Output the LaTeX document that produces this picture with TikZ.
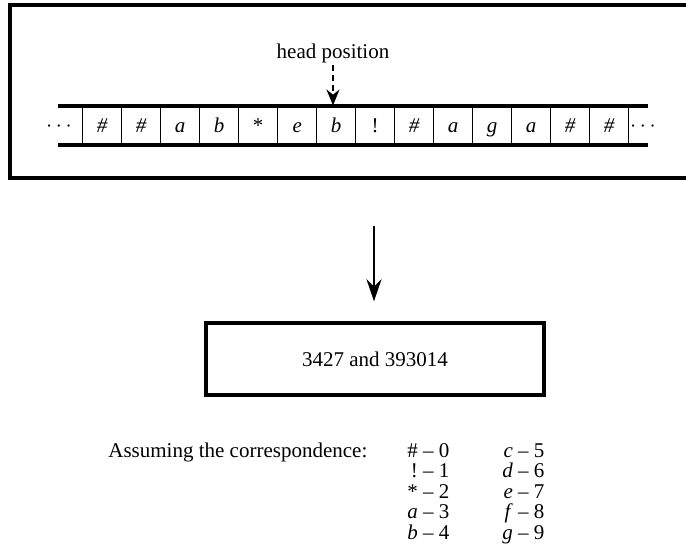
\documentclass[tikz,border=0pt]{standalone}
\usepackage{fontspec}
\setmainfont{Liberation Serif}
\usetikzlibrary{arrows.meta,positioning}

\tikzset{
  thickrule/.style={line width=1.7pt},
  tapecell/.style={draw,line width=0.5pt,minimum width=19.5pt,minimum height=19.5pt,
                   inner sep=0pt,text height=7pt,text depth=0pt},
  headarrow/.style={line width=0.9pt,dash pattern=on 3pt off 2pt,
                    -{Stealth[length=8pt,width=6.5pt]}},
  mainarrow/.style={line width=0.9pt,-{Stealth[length=11pt,width=7.5pt]}},
  resbox/.style={draw,line width=1.7pt,minimum width=169pt,minimum height=36pt},
  rowtext/.style={anchor=base west,inner sep=0pt}
}

\begin{document}
\begin{tikzpicture}[x=0.5pt,y=-0.5pt,font=\fontsize{10.5}{12}\selectfont]
  \useasboundingbox (0,0) rectangle (686,552);

  % outer frame, runs off at the right
  \draw[thickrule] (10,5) rectangle (700,178);

  % tape
  \foreach \sym [count=\i] in {\textit{\#},\textit{\#},\textit{a},\textit{b},*,\textit{e},
                               \textit{b},!,\textit{\#},\textit{a},\textit{g},\textit{a},
                               \textit{\#},\textit{\#}}
    \node[tapecell] (c\i) at ({102.2+39*(\i-1)},125.5) {\sym};
  \draw[thickrule] (58,106) -- (648,106);
  \draw[thickrule] (58,145) -- (648,145);
  \node[anchor=base,inner sep=0pt] (ldots) at (59,131) {$\cdots$};
  \node[anchor=base,inner sep=0pt] (rdots) at (643,131) {$\cdots$};

  \node[inner sep=1pt] (head) at (333,53) {head position};
  \draw[headarrow] (head.south) -- (head.south |- c7.north);

  % result
  \node[resbox] (res) at (375,359) {3427 and 393014};
  \coordinate (src) at (374,226);
  \draw[mainarrow,shorten >=10pt] (src) -- (src |- res.north);

  % correspondence
  \node[rowtext] (assume) at (108,457) {Assuming the correspondence:};
  \foreach \lsym/\lnum/\rsym/\rnum [count=\k] in
      {\#/0/\textit{c}/5, !/1/\textit{d}/6, */2/\textit{e}/7,
       \textit{a}/3/\textit{f}/8, \textit{b}/4/\textit{g}/9}
  {
    \node[rowtext] (l\k) at (407,{457+20.5*(\k-1)})
      {\makebox[0.5em][r]{\lsym} -- \lnum};
    \node[rowtext] (r\k) at (503,{457+20.5*(\k-1)})
      {\makebox[0.45em][r]{\rsym} -- \rnum};
  }
\end{tikzpicture}
\end{document}
